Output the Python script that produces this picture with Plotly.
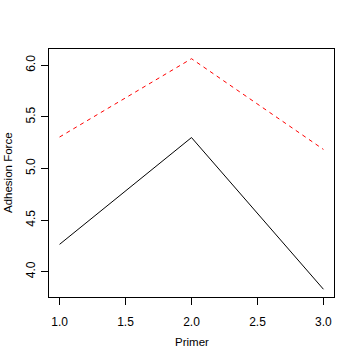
import plotly.graph_objects as go

primer = [1, 2, 3]
series_black = [4.265, 5.30, 3.83]
series_red = [5.305, 6.064, 5.185]
x_ticks = [1.0, 1.5, 2.0, 2.5, 3.0]
x_tick_labels = ["1.0", "1.5", "2.0", "2.5", "3.0"]
y_ticks = [4.0, 4.5, 5.0, 5.5, 6.0]
y_tick_labels = ["4.0", "4.5", "5.0", "5.5", "6.0"]

fig = go.Figure()
fig.add_trace(go.Scatter(x=primer, y=series_black, mode="lines",
                         line=dict(color="black", width=1), showlegend=False))
fig.add_trace(go.Scatter(x=primer, y=series_red, mode="lines",
                         line=dict(color="#FF0000", width=1, dash="4px,4px"), showlegend=False))

font = dict(family="Liberation Sans, Arial, sans-serif", size=12, color="black")
title_font = dict(family="Liberation Sans, Arial, sans-serif", size=11.5, color="black")
fig.update_layout(
    width=360, height=360,
    margin=dict(l=49, r=26, t=49, b=63, autoexpand=False),
    paper_bgcolor="white", plot_bgcolor="white",
    font=font,
    xaxis=dict(range=[0.92, 3.08], tickvals=x_ticks, ticktext=x_tick_labels,
               showline=True, mirror=True, linecolor="black", linewidth=1,
               ticks="outside", ticklen=7, tickcolor="black", tickwidth=1,
               showgrid=False, zeroline=False, ticklabelstandoff=7, automargin=False),
    yaxis=dict(range=[3.755, 6.158], tickvals=y_ticks, ticktext=y_tick_labels,
               showline=True, mirror=True, linecolor="black", linewidth=1,
               ticks="outside", ticklen=7, tickcolor="black", tickwidth=1,
               tickangle=-90, showgrid=False, zeroline=False, ticklabelstandoff=1,
               automargin=False),
    annotations=[
        dict(text="Primer", xref="paper", yref="paper", x=0.5, y=-(342 - 297) / 248,
             xanchor="center", yanchor="middle", showarrow=False, font=title_font),
        dict(text="Adhesion Force", xref="paper", yref="paper", x=(8 - 49) / 285, y=0.5,
             xanchor="center", yanchor="middle", textangle=-90, showarrow=False, font=title_font),
    ],
)
fig.write_html("out.html", post_script="document.body.style.margin='0';",
               config={"displayModeBar": False})
